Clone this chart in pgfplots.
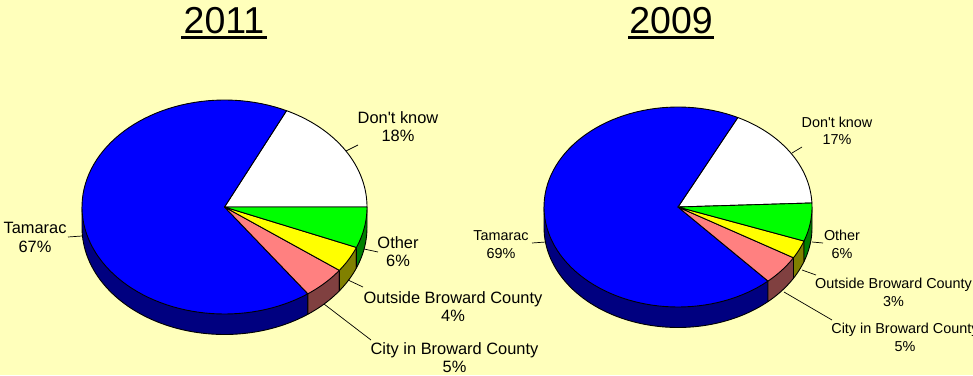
\documentclass[border=0pt]{standalone}
\usepackage{pgfplots}
\pgfplotsset{compat=1.18}
\usepackage{fontspec}
\setmainfont{Liberation Sans}[Ligatures=TeXOff]
\definecolor{bg}{HTML}{FFFFBB}
\definecolor{bluetop}{HTML}{0000FF}
\definecolor{blueside}{HTML}{000080}
\definecolor{pinktop}{HTML}{FF8080}
\definecolor{pinkside}{HTML}{804040}
\definecolor{yeltop}{HTML}{FFFF00}
\definecolor{yelside}{HTML}{808000}
\definecolor{greentop}{HTML}{00FF00}
\definecolor{greenside}{HTML}{008000}
% #1 cx, #2 cy, #3 rx, #4 ry, #5 start angle, #6 end angle, #7 colour
\newcommand{\pieslice}[7]{%
  \addplot[draw=black,line width=0.9pt,line join=round,fill=#7,variable=\t,domain=#5:#6,samples=90]
    ({#1+#3*cos(\t)},{#2-#4*sin(\t)}) -- (axis cs:#1,#2) -- cycle;
}
% #8 depth: the rim below the slice
\newcommand{\pieside}[8]{%
  \addplot[draw=black,line width=0.9pt,line join=round,fill=#7,variable=\t,domain=#5:#6,samples=60]
    ({#1+#3*cos(\t)},{#2-#4*sin(\t)+#8})
    -- (axis cs:{#1+#3*cos(#6)},{#2-#4*sin(#6)})
    -- (axis cs:#1,#2)
    -- (axis cs:{#1+#3*cos(#5)},{#2-#4*sin(#5)})
    -- cycle;
}
\begin{document}
\begin{tikzpicture}
\path[use as bounding box,clip] (0,0) rectangle (973pt,375pt);
\fill[bg] (0,0) rectangle (973pt,375pt);
\begin{axis}[
  scale only axis,width=973pt,height=375pt,
  xmin=0,xmax=973,ymin=0,ymax=375,y dir=reverse,
  axis lines=none,clip=false]
% 2011 rim
\pieside{224.5}{207}{142.5}{107}{180}{305.8}{blueside}{20.5}
\pieside{224.5}{207}{142.5}{107}{305.8}{323.7}{pinkside}{20.5}
\pieside{224.5}{207}{142.5}{107}{323.7}{337.8}{yelside}{20.5}
\pieside{224.5}{207}{142.5}{107}{337.8}{360}{greenside}{20.5}
% 2011 shares: 18, 67, 5, 4, 6 per cent
\pieslice{224.5}{207}{142.5}{107}{0}{64.2}{white}
\pieslice{224.5}{207}{142.5}{107}{64.2}{305.8}{bluetop}
\pieslice{224.5}{207}{142.5}{107}{305.8}{323.7}{pinktop}
\pieslice{224.5}{207}{142.5}{107}{323.7}{337.8}{yeltop}
\pieslice{224.5}{207}{142.5}{107}{337.8}{360}{greentop}
% 2009 rim
\pieside{678}{207}{134}{100}{180}{312.2}{blueside}{20.5}
\pieside{678}{207}{134}{100}{312.2}{329.5}{pinkside}{20.5}
\pieside{678}{207}{134}{100}{329.5}{340.1}{yelside}{20.5}
\pieside{678}{207}{134}{100}{340.1}{360}{greenside}{20.5}
% 2009 shares: 17, 69, 5, 3, 6 per cent
\pieslice{678}{207}{134}{100}{2.3}{63.5}{white}
\pieslice{678}{207}{134}{100}{63.5}{312.2}{bluetop}
\pieslice{678}{207}{134}{100}{312.2}{329.5}{pinktop}
\pieslice{678}{207}{134}{100}{329.5}{340.1}{yeltop}
\pieslice{678}{207}{134}{100}{340.1}{362.3}{greentop}
% leader lines 2011
\addplot[black,line width=0.7pt] coordinates {(346,151) (358,145)};
\addplot[black,line width=0.7pt] coordinates {(364,249) (378,252)};
\addplot[black,line width=0.7pt] coordinates {(348,280) (363,287)};
\addplot[black,line width=0.7pt] coordinates {(324,304) (371,340)};
\addplot[black,line width=0.7pt] coordinates {(68,237) (82,236)};
% leader lines 2009
\addplot[black,line width=0.7pt] coordinates {(792,153) (802,147)};
\addplot[black,line width=0.7pt] coordinates {(812,242) (823,243)};
\addplot[black,line width=0.7pt] coordinates {(802,270) (816,275)};
\addplot[black,line width=0.7pt] coordinates {(784,292) (832,320)};
\addplot[black,line width=0.7pt] coordinates {(532,243) (546,242)};
% title rules
\addplot[black,line width=2.6pt] coordinates {(181,37.7) (267,37.7)};
\addplot[black,line width=2.6pt] coordinates {(628,37.7) (714,37.7)};
% titles
\node[inner sep=0pt,font=\fontsize{37.5}{38}\selectfont,anchor=base] at (axis cs:224,33.5) {2011};
\node[inner sep=0pt,font=\fontsize{37.5}{38}\selectfont,anchor=base] at (axis cs:671,33.5) {2009};
% labels 2011
\def\big{\fontsize{16.4}{18.5}\selectfont}
\def\small{\fontsize{14.4}{17.5}\selectfont}
\node[inner sep=0pt,align=center,font=\big] at (axis cs:35,237.6) {Tamarac\\67\%};
\node[inner sep=0pt,align=center,font=\big] at (axis cs:398,126.6) {Don't know\\18\%};
\node[inner sep=0pt,align=center,font=\big] at (axis cs:398,251.6) {Other\\6\%};
\node[inner sep=0pt,align=center,font=\big] at (axis cs:453,306.4) {Outside Broward County\\4\%};
\node[inner sep=0pt,align=center,font=\big] at (axis cs:454.5,357.8) {City in Broward County\\5\%};
% labels 2009
\node[inner sep=0pt,align=center,font=\small] at (axis cs:501,244.5) {Tamarac\\69\%};
\node[inner sep=0pt,align=center,font=\small] at (axis cs:837,131) {Don't know\\17\%};
\node[inner sep=0pt,align=center,font=\small] at (axis cs:842,244.5) {Other\\6\%};
\node[inner sep=0pt,align=center,font=\small] at (axis cs:893.5,292.5) {Outside Broward County\\3\%};
\node[inner sep=0pt,align=center,font=\small] at (axis cs:905,337.5) {City in Broward County\\5\%};
\end{axis}
\end{tikzpicture}
\end{document}
